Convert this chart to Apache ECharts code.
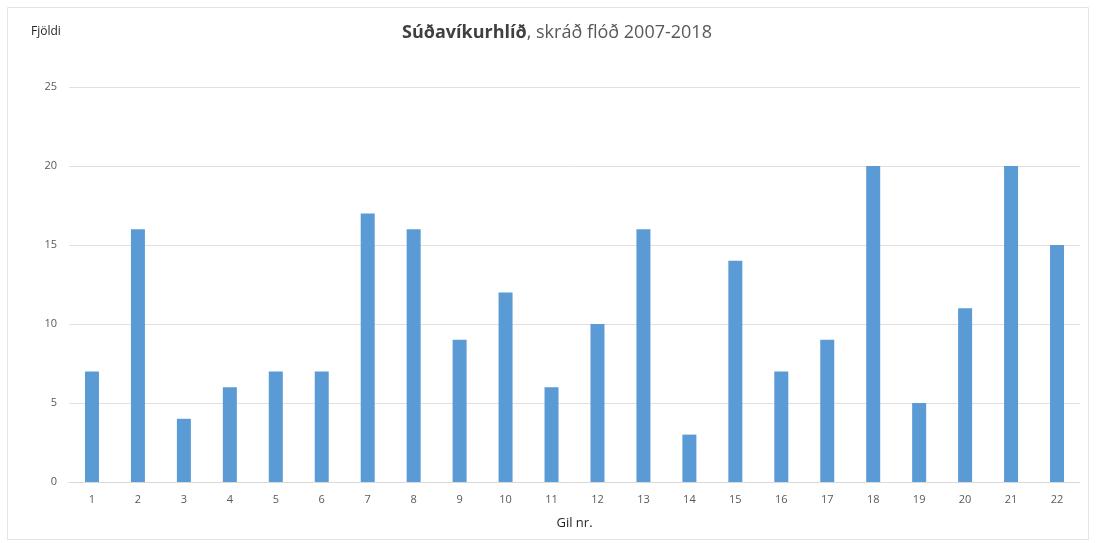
<!DOCTYPE html>
<html><head><meta charset="utf-8">
<script src="https://cdn.jsdelivr.net/npm/echarts@6/dist/echarts.min.js"></script>
<style>html,body{margin:0;padding:0;background:#fff}#c{width:1096px;height:543px}</style>
</head><body><div id="c"></div>
<script>
const categories = ['1','2','3','4','5','6','7','8','9','10','11','12','13','14','15','16','17','18','19','20','21','22'];
const counts = [7,16,4,6,7,7,17,16,9,12,6,10,16,3,14,7,9,20,5,11,20,15];
const yTicks = [0,5,10,15,20,25];

const chart = echarts.init(document.getElementById('c'), null, {renderer:'canvas'});
const font = '"Open Sans", "DejaVu Sans", sans-serif';
chart.setOption({
  animation:false,
  backgroundColor:'#fff',
  graphic:[
    {type:'rect',shape:{x:7.5,y:7.5,width:1081,height:532},style:{fill:'none',stroke:'#e3e3e3',lineWidth:1}},
    {type:'text',x:31,y:26,style:{text:'Fjöldi',font:'12px '+font,fill:'#262626'}},
    {type:'text',x:557,y:33,style:{
      text:'{b|Súðavíkurhlíð}{n|, skráð flóð 2007-2018}',
      align:'center',verticalAlign:'middle',
      rich:{
        b:{fontFamily:font,fontSize:18,fontWeight:'bold',fill:'#404040'},
        n:{fontFamily:font,fontSize:18,fontWeight:'normal',fill:'#595959'}
      }}}
  ],
  grid:{left:69,right:16,top:87,bottom:61,containLabel:false},
  xAxis:{
    type:'category',data:categories,
    name:'Gil nr.',nameLocation:'middle',nameGap:35,
    nameTextStyle:{fontFamily:font,fontSize:13,color:'#262626'},
    axisLine:{lineStyle:{color:'#d9d9d9'}},
    axisTick:{show:false},
    axisLabel:{fontFamily:font,fontSize:11,color:'#595959',margin:12}
  },
  yAxis:{
    type:'value',min:yTicks[0],max:yTicks[yTicks.length-1],interval:5,
    axisLine:{show:false},axisTick:{show:false},
    axisLabel:{fontFamily:font,fontSize:11,color:'#595959',margin:12},
    splitLine:{lineStyle:{color:'#e0e0e0'}}
  },
  series:[{type:'bar',data:counts,barWidth:14,itemStyle:{color:'#5b9bd5'}}]
});
</script></body></html>
